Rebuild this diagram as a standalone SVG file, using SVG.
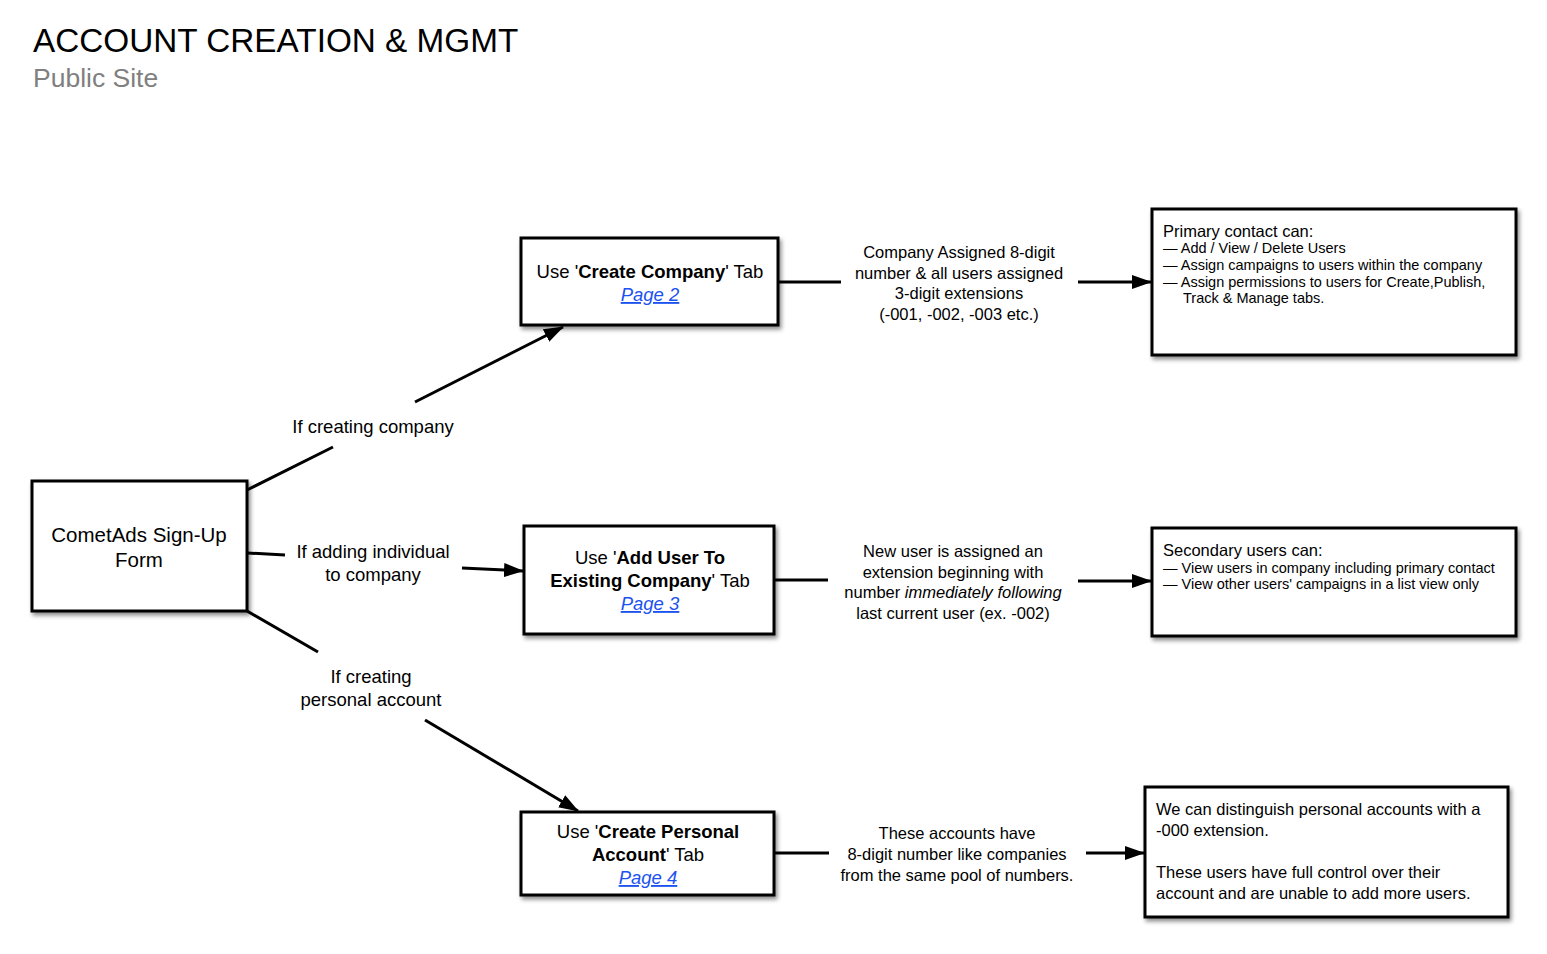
<svg xmlns="http://www.w3.org/2000/svg" width="1547" height="954" viewBox="0 0 1547 954">
<style>
text{font-family:"Liberation Sans",Arial,sans-serif;fill:#000}
.box{fill:#fff;stroke:#000;stroke-width:3;filter:url(#sh)}
.c{stroke:#000;stroke-width:3;fill:none}
.a{marker-end:url(#ah)}
.t18{font-size:18.5px;text-anchor:middle}
.t20{font-size:20.5px;text-anchor:middle}
.t16m{font-size:16.5px;text-anchor:middle}
.t16{font-size:16.5px}
.t14{font-size:14.5px}
.lnk{fill:#1c52f0;font-style:italic;text-decoration:underline}
</style>
<defs>
<filter id="sh" x="-10%" y="-10%" width="130%" height="130%">
<feDropShadow dx="2" dy="3" stdDeviation="2" flood-color="#000" flood-opacity="0.45"/>
</filter>
<marker id="ah" markerWidth="20" markerHeight="14" refX="19" refY="7" orient="auto" markerUnits="userSpaceOnUse">
<path d="M0,0 L20,7 L0,14 Z" fill="#000"/>
</marker>
</defs>

<text x="33" y="52" style="font-size:33.3px">ACCOUNT CREATION &amp; MGMT</text>
<text x="33" y="87" style="font-size:26.5px;fill:#808080">Public Site</text>

<g id="connectors">
<line class="c" x1="247" y1="490" x2="333" y2="447"/>
<line class="c a" x1="415" y1="402" x2="563" y2="327"/>
<text class="t18" x="373" y="433">If creating company</text>
<line class="c" x1="247" y1="553" x2="285" y2="555"/>
<line class="c a" x1="462" y1="568" x2="523" y2="571"/>
<text class="t18" x="373" y="558">If adding individual</text>
<text class="t18" x="373" y="581">to company</text>
<line class="c" x1="247" y1="611" x2="318" y2="652"/>
<line class="c a" x1="425" y1="720" x2="578" y2="811"/>
<text class="t18" x="371" y="683">If creating</text>
<text class="t18" x="371" y="706">personal account</text>

<line class="c" x1="778" y1="282" x2="841" y2="282"/>
<line class="c a" x1="1078" y1="282" x2="1151" y2="282"/>
<text class="t16m" x="959" y="258">Company Assigned 8-digit</text>
<text class="t16m" x="959" y="279">number &amp; all users assigned</text>
<text class="t16m" x="959" y="299">3-digit extensions</text>
<text class="t16m" x="959" y="320">(-001, -002, -003 etc.)</text>

<line class="c" x1="774" y1="580" x2="828" y2="580"/>
<line class="c a" x1="1078" y1="581" x2="1151" y2="581"/>
<text class="t16m" x="953" y="557">New user is assigned an</text>
<text class="t16m" x="953" y="578">extension beginning with</text>
<text class="t16m" x="953" y="598">number <tspan font-style="italic">immediately following</tspan></text>
<text class="t16m" x="953" y="619">last current user (ex. -002)</text>

<line class="c" x1="774" y1="853" x2="829" y2="853"/>
<line class="c a" x1="1086" y1="853" x2="1144" y2="853"/>
<text class="t16m" x="957" y="839">These accounts have</text>
<text class="t16m" x="957" y="860">8-digit number like companies</text>
<text class="t16m" x="957" y="881">from the same pool of numbers.</text>
</g>

<g id="signup">
<rect class="box" x="32" y="481" width="215" height="130"/>
<text class="t20" x="139" y="542">CometAds Sign-Up</text>
<text class="t20" x="139" y="567">Form</text>
</g>

<g id="create-company">
<rect class="box" x="521" y="238" width="257" height="87"/>
<text class="t18" x="650" y="278">Use '<tspan font-weight="bold">Create Company</tspan>' Tab</text>
<text class="t18 lnk" x="650" y="301">Page 2</text>
</g>

<g id="add-user">
<rect class="box" x="524" y="526" width="250" height="108"/>
<text class="t18" x="650" y="564">Use '<tspan font-weight="bold">Add User To</tspan></text>
<text class="t18" x="650" y="587"><tspan font-weight="bold">Existing Company</tspan>' Tab</text>
<text class="t18 lnk" x="650" y="610">Page 3</text>
</g>

<g id="create-personal">
<rect class="box" x="521" y="812" width="253" height="83"/>
<text class="t18" x="648" y="838">Use '<tspan font-weight="bold">Create Personal</tspan></text>
<text class="t18" x="648" y="861"><tspan font-weight="bold">Account</tspan>' Tab</text>
<text class="t18 lnk" x="648" y="884">Page 4</text>
</g>

<g id="primary">
<rect class="box" x="1152" y="209" width="364" height="146"/>
<text class="t16" x="1163" y="237">Primary contact can:</text>
<text class="t14" x="1163" y="253">— Add / View / Delete Users</text>
<text class="t14" x="1163" y="270">— Assign campaigns to users within the company</text>
<text class="t14" x="1163" y="287">— Assign permissions to users for Create,Publish,</text>
<text class="t14" x="1183" y="303">Track &amp; Manage tabs.</text>
</g>

<g id="secondary">
<rect class="box" x="1152" y="528" width="364" height="108"/>
<text class="t16" x="1163" y="556">Secondary users can:</text>
<text class="t14" x="1163" y="573">— View users in company including primary contact</text>
<text class="t14" x="1163" y="589">— View other users' campaigns in a list view only</text>
</g>

<g id="personal-info">
<rect class="box" x="1145" y="787" width="363" height="130"/>
<text class="t16" x="1156" y="815">We can distinguish personal accounts with a</text>
<text class="t16" x="1156" y="836">-000 extension.</text>
<text class="t16" x="1156" y="878">These users have full control over their</text>
<text class="t16" x="1156" y="899">account and are unable to add more users.</text>
</g>
</svg>
